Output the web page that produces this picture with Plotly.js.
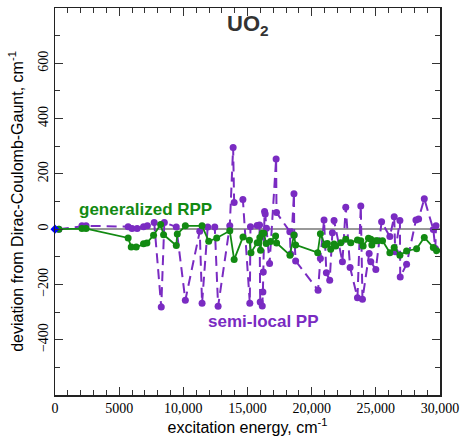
<!DOCTYPE html>
<html><head><meta charset="utf-8">
<script src="https://cdn.plot.ly/plotly-3.0.1.min.js"></script>
<style>html,body{margin:0;padding:0;background:#fff}#chart{width:463px;height:436px}</style>
</head><body><div id="chart"></div>
<script>
const semiX = [300,2100,2420,5700,6000,6400,6900,7200,7730,8280,8520,9450,10156,11280,11460,11900,12450,12710,13620,13880,13960,14640,15180,15230,15750,15940,15990,16150,16200,16230,16330,16380,16480,16720,17230,17260,18300,18360,18620,18640,18750,20500,20680,20964,21146,21406,21615,21745,22396,22656,22995,23568,23828,23958,24479,24609,25000,25450,26094,26432,26510,26875,26900,27396,28125,28333,28776,29479,29635,29688];
const semiY = [0,12,12,9,2,2,9,12,24,-282,24,8,-257,-8,-268,8,8,-279,12,295,96,107,-268,9,13,15,-264,-278,-227,-155,64,55,3,-124,254,60,-9,-90,128,-21,-115,-221,-106,33,-158,-185,-13,31,-118,79,-139,-248,84,-254,-88,-118,-146,27,-27,45,-82,31,-173,-127,33,37,110,-1,-70,12];
const genX = [300,2100,2420,5700,5940,6330,6900,7160,7680,8230,8460,9450,9530,10156,11458,11980,12600,13620,13960,14650,15150,15270,15755,15963,16016,16146,16276,16458,16797,17188,17266,18307,18620,18750,20470,20680,21042,21224,21484,21745,21875,22266,22656,23047,23568,23828,24010,24427,24609,24688,25000,25130,25521,26094,26432,26875,27396,28177,28776,29479,29740];
const genY = [0,2,2,-32,-65,-65,-53,-50,-22,17,-20,-59,-18,12,12,-44,-32,-6,-110,-28,-40,-85,-49,-30,-76,-15,-15,-52,-45,-25,-50,-94,-21,-57,-85,-17,-57,-52,-73,-54,-61,-49,-37,-49,-39,-42,-61,-33,-37,-57,-42,-42,-42,-85,-66,-94,-79,-71,-30,-66,-78];
const refX = [0];
const refY = [0];
const xTickVals = [0,5000,10000,15000,20000,25000,30000];
const xTickText = ['0','5000','10,000','15,000','20,000','25,000','30,000'];
const yTickVals = [-400,-200,0,200,400,600];

const purple = '#7a2bc2';
const green = '#128a12';

const traces = [
  {x: semiX, y: semiY, mode: 'lines+markers', type: 'scatter',
   line: {color: purple, width: 2, dash: '10px,6px'}, marker: {color: purple, size: 7}, name: 'semi-local PP'},
  {x: genX, y: genY, mode: 'lines+markers', type: 'scatter',
   line: {color: green, width: 1.8}, marker: {color: green, size: 7}, name: 'generalized RPP'},
  {x: refX, y: refY, mode: 'markers', type: 'scatter', cliponaxis: false,
   marker: {color: '#0000ff', size: 7, symbol: 'diamond'}, name: 'ref'}
];

const axisCommon = {
  showline: true, linecolor: '#222', linewidth: 1.5, mirror: 'allticks',
  ticks: 'inside', ticklen: 8, tickcolor: '#333', tickwidth: 1.2,
  showgrid: false,
  tickfont: {family: 'Liberation Serif', size: 14, color: '#000'}
};

const layout = {
  width: 463, height: 436,
  margin: {l: 55, r: 23, t: 8, b: 41},
  paper_bgcolor: '#fff', plot_bgcolor: '#fff',
  showlegend: false,
  xaxis: Object.assign({}, axisCommon, {
    range: [0, 30000], tickmode: 'array', tickvals: xTickVals, ticktext: xTickText,
    zeroline: false,
    minor: {dtick: 1000, ticks: 'inside', ticklen: 5, tickcolor: '#333', tickwidth: 1},
    title: {text: 'excitation energy, cm<sup>-1</sup>', font: {family: 'Liberation Sans', size: 16, color: '#000'}, standoff: 6}
  }),
  yaxis: Object.assign({}, axisCommon, {
    range: [-600, 800], tickmode: 'array', tickvals: yTickVals, tickangle: -90,
    zeroline: true, zerolinecolor: '#999', zerolinewidth: 2,
    minor: {dtick: 100, ticks: 'inside', ticklen: 5, tickcolor: '#333', tickwidth: 1},
    title: {text: 'deviation from Dirac-Coulomb-Gaunt, cm<sup>-1</sup>', font: {family: 'Liberation Sans', size: 16, color: '#000'}, standoff: 8}
  }),
  annotations: [
    {xref: 'paper', yref: 'paper', x: 0.5, y: 0.955, xanchor: 'center', yanchor: 'middle', showarrow: false,
     text: '<b>UO<sub>2</sub></b>', font: {family: 'Liberation Sans', size: 22, color: '#333'}},
    {xref: 'x', yref: 'y', x: 1700, y: 70, xanchor: 'left', yanchor: 'middle', showarrow: false,
     text: '<b>generalized RPP</b>', font: {family: 'Liberation Sans', size: 17, color: green}},
    {xref: 'x', yref: 'y', x: 11800, y: -335, xanchor: 'left', yanchor: 'middle', showarrow: false,
     text: '<b>semi-local PP</b>', font: {family: 'Liberation Sans', size: 17, color: purple}}
  ]
};

Plotly.newPlot('chart', traces, layout, {displayModeBar: false, staticPlot: true});
</script></body></html>
